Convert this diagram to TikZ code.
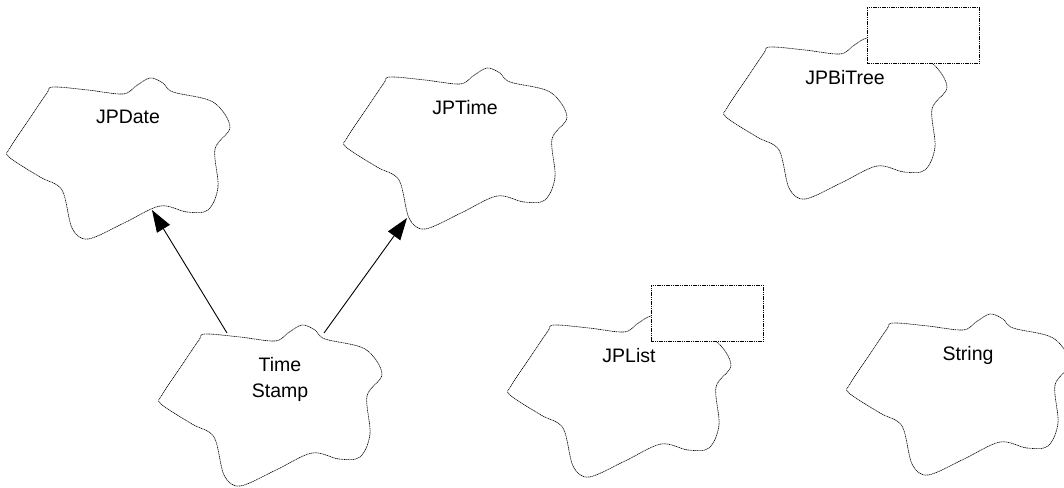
\documentclass[tikz,border=0pt]{standalone}
\usepackage{fontspec}
\setmainfont{Liberation Sans}
\usetikzlibrary{arrows.meta}
\tikzset{
  cloudline/.style={line width=0.6pt, dash pattern=on 1.2pt off 0.6pt},
  cloudtext/.style={anchor=north, inner sep=0pt, align=center, font=\fontsize{19.5}{25.7}\selectfont},
  adornbox/.style={draw, line width=0.6pt, dash pattern=on 1.2pt off 0.6pt, fill=white},
  inherit/.style={line width=0.9pt, -{Triangle[length=22pt,width=15pt]}}
}
\newcommand{\mycloud}[4]{%
  \begin{scope}[shift={(#2,#3)}]
    \draw[cloudline] plot[smooth cycle, tension=0.55] coordinates {
      (45,9) (80,12) (115,16) (128,8) (142,0) (155,5) (165,14) (205,24) (222,49)
      (207,71) (210,109) (200,132) (179,134) (152,128) (116,145) (80,161)
      (64,150) (54,112) (32,99) (1,79) (2,70) (22,40) (39,15)};
    \node[cloudtext] (#1) at (120,32) {#4};
  \end{scope}}
\newcommand{\myadorn}[3]{%
  \node[adornbox, minimum width=112pt, minimum height=56pt, inner sep=0pt, anchor=north west] (#1) at ({#2+142},{#3-31}) {};}
\begin{document}
\begin{tikzpicture}[x=1pt,y=-1pt]
  \useasboundingbox (0,0) rectangle (1064,487);
  \mycloud{date}{8}{78}{JPDate}
  \mycloud{time}{345}{68}{JPTime}
  \mycloud{ts}{160}{325}{Time\\Stamp}
  \mycloud{bitree}{725}{38}{JPBiTree}
  \myadorn{bitreebox}{725}{38}
  \mycloud{list}{509}{316}{JPList}
  \myadorn{listbox}{509}{316}
  \mycloud{string}{848}{314}{String}
  \coordinate (ts-a) at (227,333);
  \coordinate (date-in) at (152,210);
  \coordinate (ts-b) at (324,333);
  \coordinate (time-in) at (407,218);
  \draw[inherit] (ts-a) -- (date-in);
  \draw[inherit] (ts-b) -- (time-in);
\end{tikzpicture}
\end{document}
